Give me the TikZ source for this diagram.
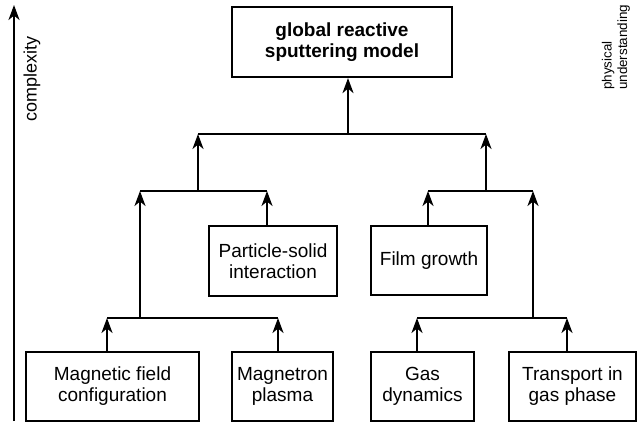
\documentclass[tikz,border=0pt]{standalone}
\usepackage{fontspec}
\setmainfont{Liberation Sans}
\usetikzlibrary{arrows.meta}
\begin{document}
\begin{tikzpicture}[x=1pt,y=-1pt,
  box/.style={draw,line width=2.2pt,inner sep=0pt,align=center,font=\fontsize{19}{21}\selectfont},
  arr/.style={line width=2.2pt,-{Stealth[length=15pt,width=11pt,inset=4.5pt]}},
  ln/.style={line width=2.2pt}]
\useasboundingbox (0,0) rectangle (643,426);
% boxes
\node[box,minimum width=220pt,minimum height=70pt,font=\fontsize{19}{21}\selectfont\bfseries] (top) at (342,42) {global reactive\\sputtering model};
\node[box,minimum width=128pt,minimum height=70pt] (ps) at (273,261) {Particle-solid\\interaction};
\node[box,minimum width=116pt,minimum height=69pt] (fg) at (429,260.5) {Film growth};
\node[box,minimum width=173pt,minimum height=69pt] (mag) at (112.5,386.5) {Magnetic field\\configuration};
\node[box,minimum width=101pt,minimum height=69pt] (mp) at (282.5,386.5) {Magnetron\\plasma};
\node[box,minimum width=103pt,minimum height=69pt] (gd) at (422.5,386.5) {Gas\\dynamics};
\node[box,minimum width=127pt,minimum height=69pt] (tg) at (572.5,386.5) {Transport in\\gas phase};
% junction coordinates
\coordinate (ta1) at (107,318); \coordinate (ta2) at (278,318); \coordinate (ja) at (140,318);
\coordinate (tc1) at (417,318); \coordinate (tc2) at (567,318); \coordinate (jc) at (533,318);
\coordinate (tb1) at (140,191); \coordinate (tb2) at (267,191); \coordinate (jb) at (198,191);
\coordinate (td1) at (428,191); \coordinate (td2) at (533,191); \coordinate (jd) at (486,191);
\coordinate (te1) at (198,134); \coordinate (te2) at (486,134); \coordinate (je) at (348,134);
% bottom level
\draw[ln] (ta1) -- (ta2);
\draw[arr] (ta1 |- mag.north) -- (ta1);
\draw[arr] (ta2 |- mp.north) -- (ta2);
\draw[ln] (tc1) -- (tc2);
\draw[arr] (tc1 |- gd.north) -- (tc1);
\draw[arr] (tc2 |- tg.north) -- (tc2);
% middle level
\draw[ln] (tb1) -- (tb2);
\draw[arr] (ja) -- (tb1);
\draw[arr] (tb2 |- ps.north) -- (tb2);
\draw[ln] (td1) -- (td2);
\draw[arr] (td1 |- fg.north) -- (td1);
\draw[arr] (jc) -- (td2);
% top level
\draw[ln] (te1) -- (te2);
\draw[arr] (jb) -- (te1);
\draw[arr] (jd) -- (te2);
\draw[arr] (je) -- (je |- top.south);
% axis
\coordinate (ax0) at (14,421); \coordinate (ax1) at (14,5);
\draw[arr] (ax0) -- (ax1);
\node[rotate=90,inner sep=0pt,font=\fontsize{18}{21}\selectfont] (cx) at (32,79) {complexity};
\node[rotate=90,inner sep=0pt,anchor=west,align=left,font=\fontsize{13.4}{15.5}\selectfont] (pu) at (616,90) {physical\\understanding};
\end{tikzpicture}
\end{document}
